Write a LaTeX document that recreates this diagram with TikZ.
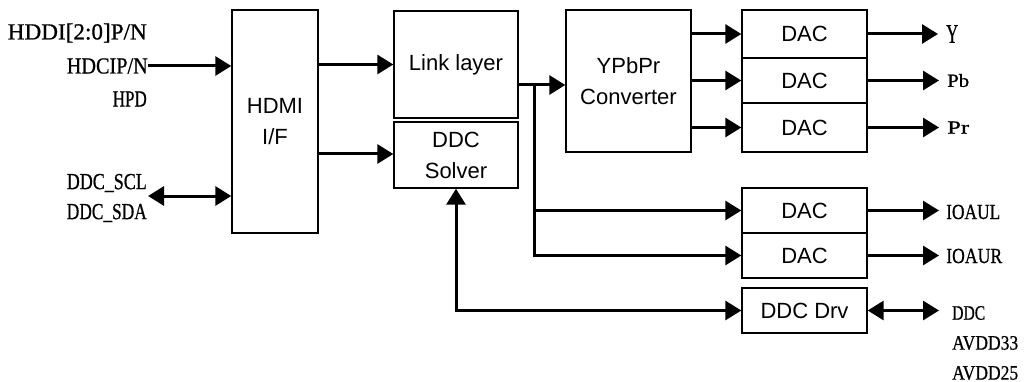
\documentclass[tikz,border=0pt]{standalone}
\usepackage{graphicx}
\usepackage{fontspec}
\setmainfont{Liberation Serif}
\newfontfamily\boxfont{Liberation Sans}
\newfontfamily\lblfont[FakeBold=0.8]{Liberation Serif}
\newcommand{\fw}[2]{\resizebox{#1}{\height}{#2}}
\usetikzlibrary{arrows.meta}
\begin{document}
\begin{tikzpicture}[x=1pt,y=-1pt,
  blk/.style={draw,line width=1.4pt,inner sep=0pt,align=center,
    font=\boxfont\fontsize{22}{31}\selectfont},
  lbl/.style={inner sep=0pt,font=\lblfont\fontsize{23}{23}\selectfont},
  arr/.style={line width=3pt,-{Triangle[length=16pt,width=19pt]}},
  darr/.style={line width=3pt,{Triangle[length=16pt,width=19pt]}-{Triangle[length=16pt,width=19pt]}}]
\useasboundingbox (0,0) rectangle (1024,382);
% blocks
\node[blk,minimum width=86pt,minimum height=223pt] (hdmi) at (275,121.5) {HDMI\\I/F};
\node[blk,minimum width=124pt,minimum height=107pt] (link) at (456,64.5) {Link layer};
\node[blk,minimum width=124pt,minimum height=66pt] (ddcs) at (456,155) {DDC\\Solver};
\node[blk,minimum width=125pt,minimum height=142pt] (ypbpr) at (628.5,81) {YPbPr\\Converter};
\node[blk,minimum width=125pt,minimum height=48pt] (dac1) at (804.5,34) {DAC};
\node[blk,minimum width=125pt,minimum height=45pt] (dac2) at (804.5,80.5) {DAC};
\node[blk,minimum width=125pt,minimum height=49pt] (dac3) at (804.5,127.5) {DAC};
\node[blk,minimum width=125pt,minimum height=45pt] (dac4) at (804.5,210.5) {DAC};
\node[blk,minimum width=125pt,minimum height=45pt] (dac5) at (804.5,255.5) {DAC};
\node[blk,minimum width=125pt,minimum height=45pt] (drv) at (804.5,310.5) {DDC Drv};
% left labels
\node[lbl,anchor=east] (hddi) at (147,33) {\fw{139pt}{HDDI[2:0]P/N}};
\node[lbl,anchor=east] (hdcip) at (148,66) {\fw{81pt}{HDCIP/N}};
\node[lbl,anchor=east] (hpd) at (147,99) {\fw{34pt}{HPD}};
\node[lbl,anchor=east] (scl) at (147,183) {\fw{80pt}{DDC\_SCL}};
\node[lbl,anchor=east] (sda) at (147,213) {\fw{80pt}{DDC\_SDA}};
\coordinate (ddcin) at (148,196);
% left connectors
\draw[arr] (hdcip.east) -- (hdcip.east -| hdmi.west);
\draw[darr] (ddcin) -- (ddcin -| hdmi.west);
% HDMI to link/solver
\draw[arr] (hdmi.east |- link.west) -- (link.west);
\draw[arr] (hdmi.east |- 0,154) -- (ddcs.west |- 0,154);
% link layer output
\coordinate (j) at (534,85);
\draw[line width=3pt] (link.east |- j) -- (j);
\draw[arr] (j) -- (j -| ypbpr.west);
\draw[arr] (j) |- (dac5.west);
\draw[arr] (j |- dac4.west) -- (dac4.west);
% ypbpr to dacs
\draw[arr] (ypbpr.east |- dac1.west) -- (dac1.west);
\draw[arr] (ypbpr.east |- dac2.west) -- (dac2.west);
\draw[arr] (ypbpr.east |- dac3.west) -- (dac3.west);
% solver <-> drv
\draw[darr] (ddcs.south) |- (drv.west);
% outputs
\node[lbl,anchor=west,font=\lblfont\fontsize{27}{27}\selectfont] (oy) at (946,34) {\fw{12pt}{Y}};
\node[lbl,anchor=west,font=\lblfont\fontsize{18.5}{18.5}\selectfont] (opb) at (947,80.5) {\fw{22pt}{Pb}};
\node[lbl,anchor=west,font=\lblfont\fontsize{18.5}{18.5}\selectfont] (opr) at (947,127.5) {\fw{22pt}{Pr}};
\node[lbl,anchor=west,font=\lblfont\fontsize{21.5}{21.5}\selectfont] (oul) at (946,212) {\fw{54pt}{IOAUL}};
\node[lbl,anchor=west,font=\lblfont\fontsize{21.5}{21.5}\selectfont] (our) at (946,256) {\fw{56pt}{IOAUR}};
\node[lbl,anchor=west,font=\lblfont\fontsize{20.5}{20.5}\selectfont] (oddc) at (952,313) {\fw{33pt}{DDC}};
\node[lbl,anchor=west,font=\lblfont\fontsize{20.5}{20.5}\selectfont] (av33) at (952,343) {\fw{66pt}{AVDD33}};
\node[lbl,anchor=west,font=\lblfont\fontsize{20.5}{20.5}\selectfont] (av25) at (952,373) {\fw{66pt}{AVDD25}};
\draw[arr] (dac1.east) -- ([xshift=-8pt]oy.west |- dac1.east);
\draw[arr] (dac2.east) -- ([xshift=-8pt]opb.west |- dac2.east);
\draw[arr] (dac3.east) -- ([xshift=-8pt]opr.west |- dac3.east);
\draw[arr] (dac4.east) -- ([xshift=-7pt]oul.west |- dac4.east);
\draw[arr] (dac5.east) -- ([xshift=-7pt]our.west |- dac5.east);
\draw[darr] (drv.east) -- ([xshift=-13pt]oddc.west |- drv.east);
\end{tikzpicture}
\end{document}
